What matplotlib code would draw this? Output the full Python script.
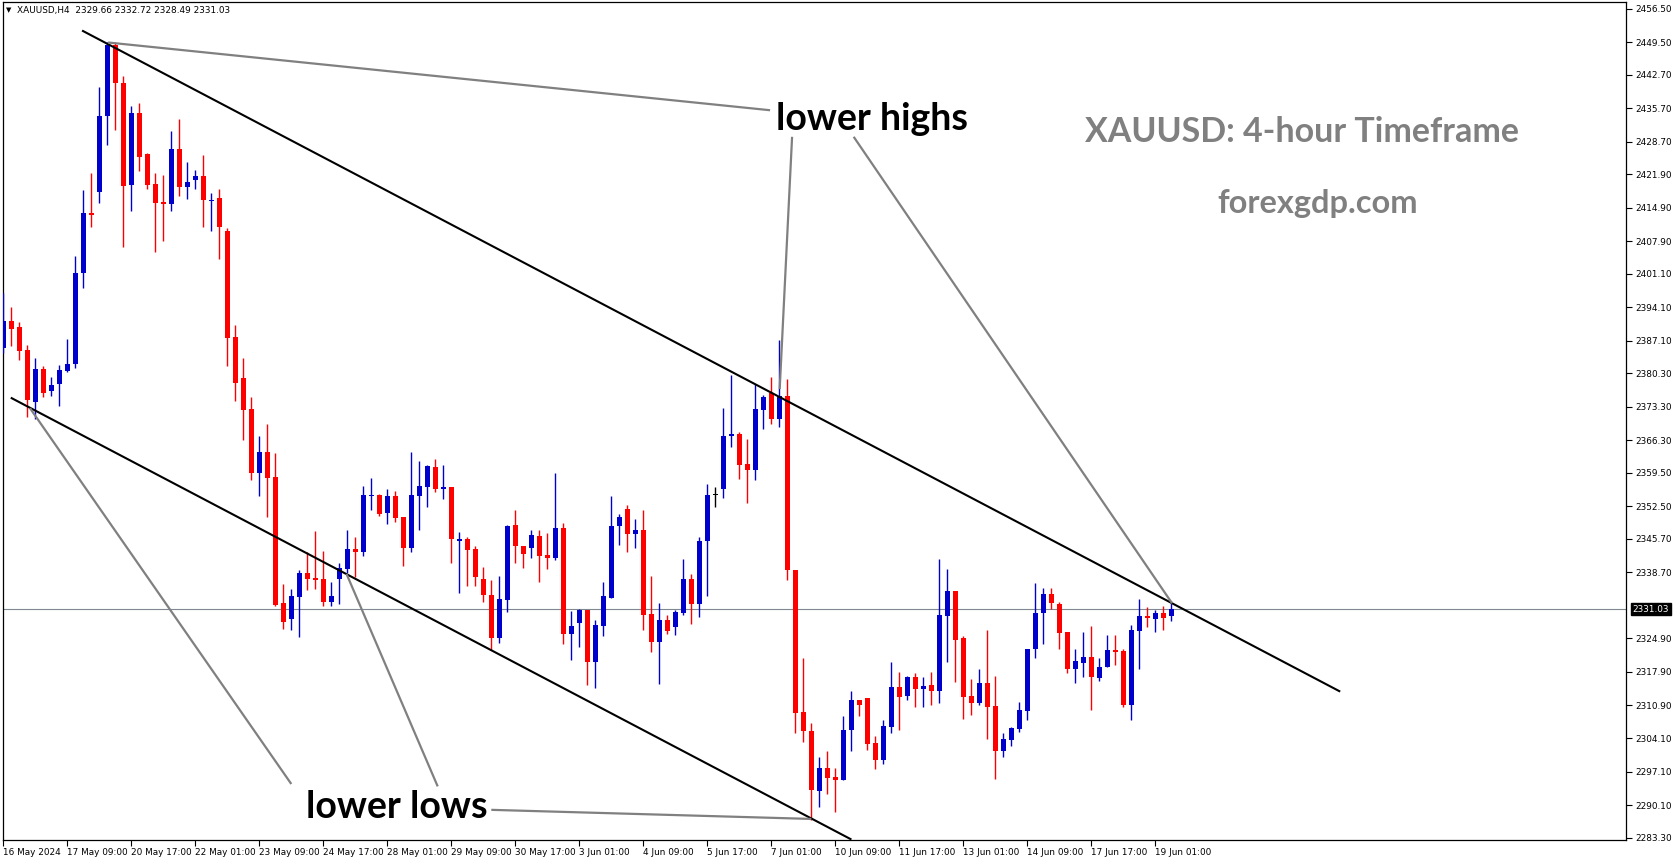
import numpy as np
import matplotlib.pyplot as plt
from matplotlib import transforms

# XAUUSD H4 candles (oldest first)
opens = [2385.65, 2391.2, 2390.0, 2385.2, 2374.4, 2381.2, 2376.5, 2378.0, 2380.85, 2382.2,
         2401.3, 2413.8, 2418.2, 2434.1, 2448.9, 2440.9, 2419.6, 2434.7, 2426.1, 2419.8,
         2416.1, 2415.7, 2427.15, 2419.3, 2420.7, 2421.5, 2416.35, 2416.9, 2410.0, 2387.9,
         2379.3, 2372.8, 2359.5, 2363.9, 2358.6, 2332.4, 2329.0, 2333.6, 2338.5, 2337.5,
         2337.3, 2332.6, 2337.4, 2339.5, 2343.6, 2343.0, 2354.7, 2354.9, 2351.2, 2354.7,
         2350.3, 2343.7, 2354.7, 2356.6, 2360.7, 2356.2, 2356.5, 2345.3, 2345.7, 2343.6,
         2337.3, 2334.0, 2324.9, 2332.9, 2348.6, 2344.3, 2343.9, 2346.3, 2342.3, 2341.7,
         2348.0, 2325.9, 2328.2, 2330.85, 2320.05, 2327.6, 2333.4, 2348.3, 2351.95, 2346.8,
         2347.6, 2330.1, 2324.2, 2328.8, 2327.2, 2330.3, 2337.3, 2332.1, 2345.3, 2354.8,
         2356.2, 2367.1, 2367.7, 2361.35, 2360.15, 2372.7, 2376.2, 2370.65, 2375.5, 2339.1,
         2309.6, 2305.6, 2293.1, 2297.8, 2295.9, 2295.4, 2305.8, 2312.1, 2312.5, 2303.1,
         2299.5, 2306.5, 2314.8, 2312.95, 2316.85, 2314.3, 2315.2, 2313.9, 2329.6, 2334.8,
         2325.0, 2312.9, 2311.4, 2315.6, 2310.8, 2301.4, 2303.7, 2306.0, 2309.8, 2322.6,
         2330.15, 2334.2, 2332.0, 2326.25, 2318.6, 2319.85, 2320.95, 2316.7, 2319.0, 2322.5,
         2322.3, 2311.0, 2326.55, 2329.6, 2329.0, 2330.3, 2329.66]
highs = [2397.0, 2394.2, 2391.0, 2386.2, 2383.4, 2381.8, 2379.5, 2382.0, 2387.4, 2404.8,
         2418.6, 2422.1, 2440.0, 2449.4, 2449.4, 2442.4, 2436.1, 2436.8, 2426.3, 2422.1,
         2421.7, 2430.9, 2433.4, 2424.4, 2422.8, 2425.9, 2417.9, 2418.8, 2410.6, 2390.4,
         2383.5, 2375.4, 2367.1, 2369.7, 2363.7, 2336.3, 2335.2, 2339.2, 2343.0, 2347.35,
         2343.2, 2336.6, 2340.6, 2347.6, 2346.2, 2356.75, 2358.35, 2355.1, 2356.1, 2355.8,
         2350.3, 2363.9, 2362.0, 2361.1, 2362.4, 2361.1, 2356.6, 2347.1, 2346.2, 2344.2,
         2339.8, 2337.1, 2337.95, 2348.5, 2351.7, 2344.3, 2347.6, 2347.6, 2347.0, 2359.5,
         2349.0, 2330.6, 2331.06, 2330.85, 2328.8, 2336.7, 2354.7, 2350.8, 2352.8, 2349.9,
         2351.7, 2338.0, 2332.4, 2329.8, 2330.85, 2341.5, 2338.4, 2346.0, 2357.2, 2356.55,
         2373.05, 2380.0, 2368.0, 2366.6, 2378.0, 2375.8, 2379.6, 2387.3, 2379.1, 2339.1,
         2320.9, 2307.3, 2300.2, 2301.4, 2297.8, 2308.7, 2314.0, 2312.1, 2312.5, 2304.5,
         2307.9, 2320.0, 2317.9, 2317.1, 2317.7, 2316.85, 2317.9, 2341.5, 2339.4, 2334.8,
         2325.4, 2316.4, 2318.5, 2326.7, 2317.1, 2305.15, 2306.5, 2311.7, 2322.7, 2336.4,
         2335.4, 2335.4, 2332.6, 2326.25, 2322.6, 2326.25, 2327.5, 2320.8, 2325.6, 2325.6,
         2322.7, 2327.7, 2333.1, 2331.5, 2330.85, 2331.7, 2332.72]
lows = [2384.6, 2386.0, 2383.1, 2371.2, 2370.7, 2375.4, 2375.6, 2373.5, 2380.5, 2381.5,
        2398.2, 2410.9, 2415.9, 2428.0, 2431.1, 2406.75, 2414.1, 2422.6, 2418.8, 2405.7,
        2408.0, 2414.3, 2417.4, 2416.8, 2418.7, 2410.9, 2410.1, 2404.2, 2381.9, 2374.6,
        2366.4, 2358.0, 2354.7, 2350.35, 2331.7, 2326.8, 2326.7, 2325.3, 2335.0, 2335.3,
        2331.75, 2331.75, 2332.2, 2338.5, 2337.8, 2342.1, 2351.7, 2350.5, 2348.8, 2349.2,
        2340.0, 2343.0, 2347.6, 2352.4, 2355.4, 2354.1, 2340.7, 2334.3, 2335.9, 2335.9,
        2332.6, 2322.5, 2324.0, 2330.5, 2340.7, 2339.6, 2341.7, 2336.7, 2339.4, 2341.3,
        2323.8, 2320.4, 2323.2, 2315.2, 2314.6, 2325.5, 2333.4, 2344.4, 2343.0, 2343.9,
        2326.7, 2322.1, 2315.4, 2325.8, 2325.6, 2329.8, 2327.9, 2329.4, 2333.8, 2352.4,
        2354.25, 2364.8, 2358.3, 2353.3, 2358.1, 2368.6, 2369.7, 2369.1, 2337.2, 2305.1,
        2303.2, 2287.0, 2289.6, 2292.4, 2288.6, 2295.4, 2301.4, 2308.6, 2301.6, 2297.6,
        2298.7, 2305.15, 2305.8, 2312.05, 2310.6, 2310.6, 2310.9, 2311.4, 2320.0, 2315.8,
        2308.1, 2308.9, 2311.0, 2303.9, 2295.5, 2300.1, 2302.5, 2305.3, 2307.9, 2320.9,
        2323.8, 2331.0, 2322.6, 2317.75, 2315.5, 2316.8, 2310.0, 2316.1, 2319.0, 2319.35,
        2310.65, 2307.9, 2318.5, 2327.3, 2326.3, 2326.7, 2328.49]
closes = [2391.2, 2389.55, 2385.0, 2374.7, 2381.2, 2376.25, 2377.85, 2381.0, 2382.2, 2401.2,
          2413.8, 2413.3, 2434.0, 2448.9, 2441.0, 2419.5, 2434.7, 2425.55, 2419.6, 2415.9,
          2415.7, 2427.15, 2419.3, 2420.26, 2421.5, 2416.5, 2416.6, 2410.9, 2387.7, 2378.2,
          2372.7, 2359.5, 2363.9, 2358.5, 2331.9, 2328.4, 2333.8, 2338.65, 2337.4, 2337.2,
          2332.6, 2333.8, 2339.6, 2343.6, 2343.0, 2354.9, 2354.9, 2350.9, 2354.7, 2350.1,
          2343.7, 2354.9, 2356.75, 2360.9, 2356.2, 2356.55, 2345.6, 2345.7, 2343.45, 2337.8,
          2334.05, 2324.9, 2333.15, 2348.4, 2344.2, 2342.55, 2346.5, 2342.1, 2341.7, 2348.0,
          2325.9, 2327.5, 2330.85, 2320.05, 2327.7, 2333.8, 2348.4, 2350.3, 2346.8, 2347.6,
          2329.8, 2324.2, 2328.8, 2326.5, 2330.4, 2337.3, 2332.1, 2345.3, 2354.9, 2354.8,
          2367.2, 2367.7, 2361.2, 2360.1, 2372.8, 2375.3, 2370.65, 2375.5, 2339.1, 2309.4,
          2305.5, 2293.3, 2297.8, 2295.8, 2295.4, 2305.8, 2312.1, 2310.9, 2302.9, 2299.5,
          2306.6, 2314.8, 2312.7, 2316.85, 2314.3, 2315.0, 2313.9, 2329.8, 2334.8, 2324.65,
          2312.7, 2311.4, 2315.6, 2310.6, 2301.4, 2303.9, 2306.1, 2310.0, 2322.7, 2330.15,
          2334.2, 2332.4, 2326.1, 2318.6, 2320.2, 2320.95, 2316.8, 2318.9, 2322.5, 2322.1,
          2311.0, 2326.7, 2329.6, 2329.25, 2330.3, 2329.25, 2331.03]

time_labels = ['16 May 2024', '17 May 09:00', '20 May 17:00', '22 May 01:00', '23 May 09:00',
               '24 May 17:00', '28 May 01:00', '29 May 09:00', '30 May 17:00', '3 Jun 01:00',
               '4 Jun 09:00', '5 Jun 17:00', '7 Jun 01:00', '10 Jun 09:00', '11 Jun 17:00',
               '13 Jun 01:00', '14 Jun 09:00', '17 Jun 17:00', '19 Jun 01:00']
price_ticks = [2456.50, 2449.50, 2442.70, 2435.70, 2428.70, 2421.90, 2414.90, 2407.90,
               2401.10, 2394.10, 2387.10, 2380.30, 2373.30, 2366.30, 2359.50, 2352.50,
               2345.70, 2338.70, 2324.90, 2317.90, 2310.90, 2304.10, 2297.10, 2290.10,
               2283.30]
last_price = 2331.03

# trend lines (candle index, price)
upper_line = ([9.96, 167.0], [2451.8, 2313.9])
lower_line = ([1.05, 105.9], [2375.1, 2283.0])
hi_pointers = [([13.1, 95.85], [2449.4, 2435.25]),
               ([98.6, 97.05], [2429.7, 2377.0]),
               ([106.3, 146.1], [2429.7, 2332.25])]
lo_pointers = [([36.0, 3.34], [2294.5, 2373.0]),
               ([54.3, 42.9], [2294.0, 2338.4]),
               ([61.0, 101.0], [2289.1, 2287.2])]

o = np.array(opens)
h = np.array(highs)
l = np.array(lows)
c = np.array(closes)
x = np.arange(len(o))

W, H = 1673, 861
fig = plt.figure(figsize=(W / 100, H / 100), dpi=100)
ax = fig.add_axes([2.7 / W, 21 / H, (1626 - 2.7) / W, 838 / H])

colors = np.where(c > o, '#0000cc', np.where(c < o, '#ff0000', 'black'))
ax.vlines(x, l, h, colors=colors, linewidth=1.0, zorder=3)
bottoms = np.minimum(o, c)
heights = np.maximum(np.abs(c - o), 0.25)
ax.bar(x, heights, bottom=bottoms, width=0.62, color=colors, linewidth=0, zorder=4)

ax.axhline(last_price, color='#7f8891', linewidth=0.8, zorder=1)

ax.plot(*upper_line, color='black', linewidth=1.5, zorder=5)
ax.plot(*lower_line, color='black', linewidth=1.5, zorder=5)
for xs, ys in hi_pointers + lo_pointers:
    ax.plot(xs, ys, color='#808080', linewidth=1.6, zorder=6, solid_capstyle='butt')

ax.set_xlim(-0.075, 202.84)
ax.set_ylim(2282.8, 2457.86)

ax.set_xticks(np.arange(len(time_labels)) * 8)
ax.set_xticklabels(time_labels, ha='left', fontsize=6.4)
ax.tick_params(axis='x', length=4, width=0.8, pad=1.5)
ax.yaxis.tick_right()
ax.set_yticks(price_ticks)
ax.set_yticklabels(['%.2f' % v for v in price_ticks], fontsize=6.4)
ax.tick_params(axis='y', length=4, width=0.8, pad=3)
for s in ax.spines.values():
    s.set_linewidth(0.9)

# last price box on the price scale
trans = transforms.blended_transform_factory(ax.transAxes, ax.transData)
ax.text(1.004, last_price, '%.2f' % last_price, transform=trans, fontsize=6.4,
        color='white', va='center', ha='left', clip_on=False, zorder=10,
        bbox=dict(boxstyle='square,pad=0.2', fc='black', ec='black'))

# header
fig.text(6 / W, 1 - 10 / H, '\u25bc', fontsize=5, va='center', ha='left')
fig.text(17 / W, 1 - 10 / H, 'XAUUSD,H4  2329.66 2332.72 2328.49 2331.03',
         fontsize=6.4, va='center', ha='left')

# annotations
fig.text(872 / W, 1 - 119 / H, 'lower highs', fontsize=27, fontweight='bold',
         family='Lato', ha='center', va='center')
fig.text(397 / W, 1 - 807 / H, 'lower lows', fontsize=27, fontweight='bold',
         family='Lato', ha='center', va='center')
fig.text(1302 / W, 1 - 132 / H, 'XAUUSD: 4-hour Timeframe', fontsize=24.5, fontweight='bold',
         family='Lato', color='#808080', ha='center', va='center')
fig.text(1318 / W, 1 - 203 / H, 'forexgdp.com', fontsize=23.5, fontweight='bold',
         family='Lato', color='#808080', ha='center', va='center')

fig.savefig('out.png', dpi=100)
